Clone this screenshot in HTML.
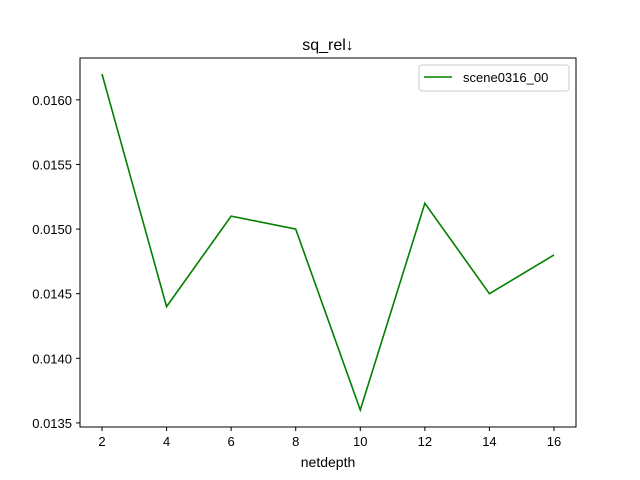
<!DOCTYPE html>
<html><head><meta charset="utf-8"><style>
body{margin:0;background:#fff}
svg{display:block;font-family:"Liberation Sans","DejaVu Sans",sans-serif}
</style></head><body>
<svg id="chart" width="640" height="480" viewBox="0 0 640 480">
<rect width="640" height="480" fill="#fff"/>
<text x="328" y="50" font-size="16" text-anchor="middle">sq_rel↓</text>
<g id="xt"></g><g id="yt"></g>
<polyline id="line" fill="none" stroke="#008000" stroke-width="1.6"/>
<rect x="80" y="58" width="496" height="369" fill="none" stroke="#000" stroke-width="1"/>
<text x="328" y="467" font-size="14" text-anchor="middle">netdepth</text>
<g>
<rect x="419" y="65" width="150" height="26" rx="3" fill="#fff" stroke="#ccc"/>
<line x1="424" y1="77" x2="452" y2="77" stroke="#008000" stroke-width="1.6"/>
<text x="463" y="82" font-size="13">scene0316_00</text>
</g>
</svg>
<script>
const xValues=[2,4,6,8,10,12,14,16];
const yValues=[0.0162,0.0144,0.0151,0.0150,0.0136,0.0152,0.0145,0.0148];
const xTicks=[2,4,6,8,10,12,14,16];
const yTicks=["0.0135","0.0140","0.0145","0.0150","0.0155","0.0160"];
const NS="http://www.w3.org/2000/svg";
function sx(v){return 102+(v-2)*(554-102)/14;}
function sy(v){return 410-(v-0.0136)*(336/0.0026);}
const pts=xValues.map((x,i)=>sx(x).toFixed(2)+","+sy(yValues[i]).toFixed(2)).join(" ");
document.getElementById('line').setAttribute('points',pts);
const xt=document.getElementById('xt'),yt=document.getElementById('yt');
xTicks.forEach(t=>{
 const l=document.createElementNS(NS,'line');
 l.setAttribute('x1',sx(t));l.setAttribute('x2',sx(t));l.setAttribute('y1',427);l.setAttribute('y2',431);l.setAttribute('stroke','#000');
 
 
 xt.appendChild(l);
 const tx=document.createElementNS(NS,'text');
 tx.setAttribute('x',sx(t));tx.setAttribute('y',446);tx.setAttribute('font-size','13');tx.setAttribute('text-anchor','middle');tx.textContent=t;
 
 
 xt.appendChild(tx);
});
yTicks.forEach(t=>{
 const v=parseFloat(t);
 const l=document.createElementNS(NS,'line');
 l.setAttribute('x1',76);l.setAttribute('x2',80);l.setAttribute('y1',sy(v));l.setAttribute('y2',sy(v));l.setAttribute('stroke','#000');
 
 
 yt.appendChild(l);
 const tx=document.createElementNS(NS,'text');
 tx.setAttribute('x',72);tx.setAttribute('y',sy(v)+5);tx.setAttribute('font-size','13');tx.setAttribute('text-anchor','end');tx.textContent=t;
 
 
 yt.appendChild(tx);
});
</script>
</body></html>
